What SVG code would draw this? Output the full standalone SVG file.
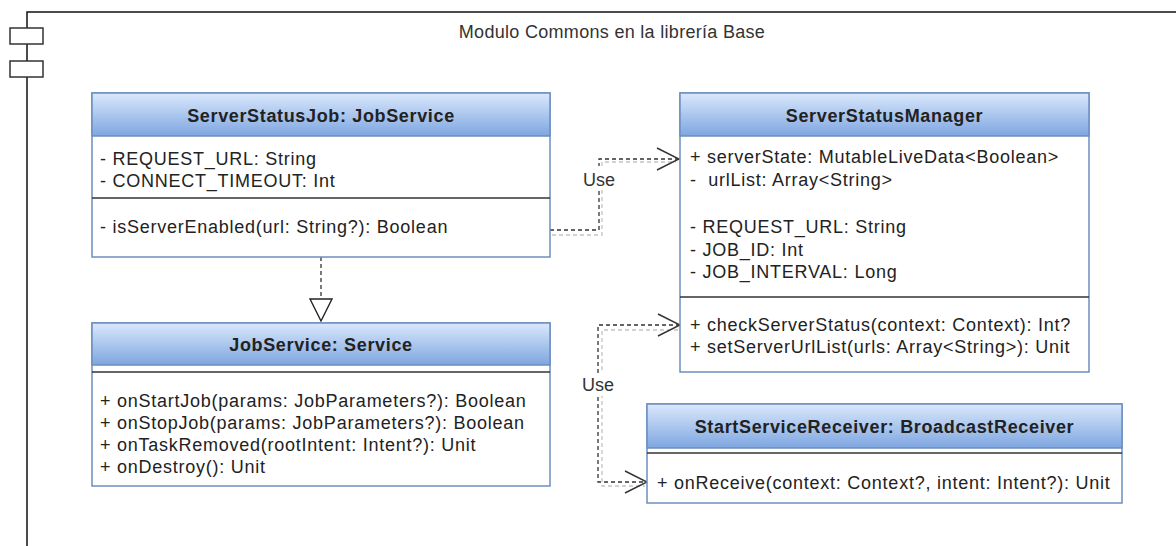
<svg xmlns="http://www.w3.org/2000/svg" width="1176" height="546" viewBox="0 0 1176 546">
  <defs>
    <linearGradient id="hdr" x1="0" y1="0" x2="0" y2="1">
      <stop offset="0" stop-color="#dae8fc"/>
      <stop offset="1" stop-color="#7ea6e0"/>
    </linearGradient>
    <marker id="open" viewBox="0 0 24 24" refX="23" refY="12" markerWidth="24" markerHeight="24" markerUnits="userSpaceOnUse" orient="auto-start-reverse">
      <path d="M1,1 L23,12 L1,23" fill="none" stroke="#333" stroke-width="1.4"/>
    </marker>
    <style>
      .box { fill: #ffffff; stroke: #6c8ebf; stroke-width: 1.5; }
      .head { fill: url(#hdr); stroke: #6c8ebf; stroke-width: 1.5; }
      .sep { stroke: #333; stroke-width: 1.6; }
      .title { font-family: "Liberation Sans", Arial, sans-serif; font-size: 18px; font-weight: bold; fill: #222; text-anchor: middle; letter-spacing: 0.65px; }
      .txt { font-family: "Liberation Sans", Arial, sans-serif; font-size: 18px; fill: #222; letter-spacing: 0.75px; }
      .lbl { font-family: "Liberation Sans", Arial, sans-serif; font-size: 18px; fill: #333; text-anchor: middle; }
      .frame { fill: none; stroke: #111; stroke-width: 1.5; }
      .port { fill: #fff; stroke: #333; stroke-width: 1.5; }
      .dash { fill: none; stroke: #333; stroke-width: 1.3; stroke-dasharray: 4 3; }
      .shadow { fill: none; stroke: #c4c4c4; stroke-width: 1.3; stroke-dasharray: 4 3; }
    </style>
  </defs>

  <!-- component frame -->
  <g id="module">
    <path class="frame" d="M27,546 L27,12 L1176,12"/>
    <rect class="port" x="10" y="28" width="33" height="16"/>
    <rect class="port" x="10" y="61" width="33" height="16"/>
    <text x="612" y="38" text-anchor="middle" font-family="Liberation Sans, Arial, sans-serif" font-size="18" fill="#333" letter-spacing="0.3">Modulo Commons en la librería Base</text>
  </g>

  <!-- connectors -->
  <g id="connectors">
    <!-- shadows -->
    <path class="shadow" d="M552,235 L602,235 L602,162 L676,162"/>
    <path class="shadow" d="M678,330 L602,330 L602,486 L645,486"/>
    <!-- ServerStatusJob uses ServerStatusManager -->
    <path class="dash" d="M550,230 L599,230 L599,159 L679,159" marker-end="url(#open)"/>
    <!-- StartServiceReceiver / ServerStatusManager -->
    <path class="dash" d="M680,325 L598,325 L598,482 L647,482" marker-start="url(#open)" marker-end="url(#open)"/>
    <!-- realization of JobService -->
    <path class="dash" d="M321,257 L321,299"/>
    <polygon points="310,299 332,299 321,321" fill="#fff" stroke="#222" stroke-width="1.4"/>
    <!-- labels -->
    <rect x="582" y="166" width="34" height="23" fill="#fff"/>
    <text class="lbl" x="599" y="186">Use</text>
    <rect x="581" y="373" width="34" height="23" fill="#fff"/>
    <text class="lbl" x="598" y="391">Use</text>
  </g>

  <!-- ServerStatusJob: JobService -->
  <g id="serverStatusJob">
    <rect class="box" x="92" y="93" width="458" height="164"/>
    <rect class="head" x="92" y="93" width="458" height="43"/>
    <text class="title" x="321" y="122">ServerStatusJob: JobService</text>
    <text class="txt" x="100" y="165">- REQUEST_URL: String</text>
    <text class="txt" x="100" y="187">- CONNECT_TIMEOUT: Int</text>
    <line class="sep" x1="92" y1="198" x2="550" y2="198"/>
    <text class="txt" x="100" y="233">- isServerEnabled(url: String?): Boolean</text>
  </g>

  <!-- JobService: Service -->
  <g id="jobService">
    <rect class="box" x="92" y="323" width="458" height="163"/>
    <rect class="head" x="92" y="323" width="458" height="42"/>
    <text class="title" x="321" y="351">JobService: Service</text>
    <line class="sep" x1="92" y1="372" x2="550" y2="372"/>
    <text class="txt" x="100" y="407">+ onStartJob(params: JobParameters?): Boolean</text>
    <text class="txt" x="100" y="429">+ onStopJob(params: JobParameters?): Boolean</text>
    <text class="txt" x="100" y="451">+ onTaskRemoved(rootIntent: Intent?): Unit</text>
    <text class="txt" x="100" y="473">+ onDestroy(): Unit</text>
  </g>

  <!-- ServerStatusManager -->
  <g id="serverStatusManager">
    <rect class="box" x="680" y="93" width="409" height="279"/>
    <rect class="head" x="680" y="93" width="409" height="43"/>
    <text class="title" x="884.5" y="122">ServerStatusManager</text>
    <text class="txt" x="690" y="163">+ serverState: MutableLiveData&lt;Boolean&gt;</text>
    <text class="txt" x="690" y="186" xml:space="preserve">-  urlList: Array&lt;String&gt;</text>
    <text class="txt" x="690" y="233">- REQUEST_URL: String</text>
    <text class="txt" x="690" y="256">- JOB_ID: Int</text>
    <text class="txt" x="690" y="278">- JOB_INTERVAL: Long</text>
    <line class="sep" x1="680" y1="297" x2="1089" y2="297"/>
    <text class="txt" x="690" y="331">+ checkServerStatus(context: Context): Int?</text>
    <text class="txt" x="690" y="353">+ setServerUrlList(urls: Array&lt;String&gt;): Unit</text>
  </g>

  <!-- StartServiceReceiver: BroadcastReceiver -->
  <g id="startServiceReceiver">
    <rect class="box" x="647" y="404" width="475" height="99"/>
    <rect class="head" x="647" y="404" width="475" height="44"/>
    <text class="title" x="884.5" y="433">StartServiceReceiver: BroadcastReceiver</text>
    <line class="sep" x1="647" y1="453" x2="1122" y2="453"/>
    <text class="txt" x="657" y="489">+ onReceive(context: Context?, intent: Intent?): Unit</text>
  </g>
</svg>
